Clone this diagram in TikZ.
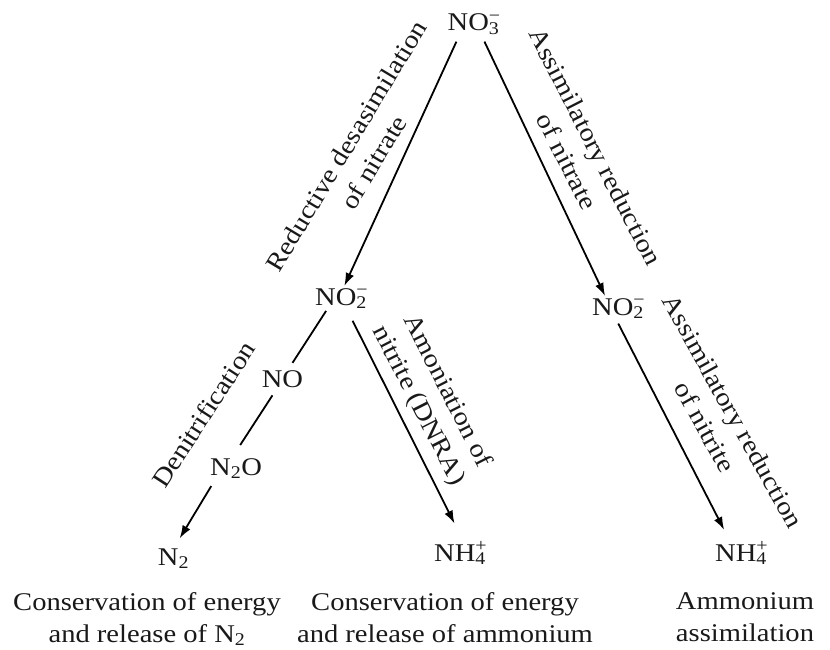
\documentclass[tikz,border=0pt]{standalone}
\usepackage{fontspec}
\setmainfont[FakeStretch=1.12]{Liberation Serif}
\usetikzlibrary{arrows.meta}

% ion with stacked charge and index
\newcommand\chemion[3]{#1\rlap{\textsuperscript{#3}}\textsubscript{#2}}

\begin{document}
\begin{tikzpicture}[x=1pt, y=-1pt, font=\fontsize{25.5}{32}\selectfont,
  species/.style={anchor=base, inner sep=2pt, text=black!90},
  pathlabel/.style={align=center, inner sep=0pt, text=black!90},
  outcome/.style={anchor=north, align=center, inner sep=0pt, text=black!90},
  arr/.style={-{Latex[length=13pt,width=9pt]}, line width=1.8pt, black},
  link/.style={line width=1.8pt, black}]

  \useasboundingbox (0,0) rectangle (830,650);

  % --- species ---
  \node[species] (no3)  at (473.5,31) {\chemion{NO}{3}{−}};
  \node[species] (no2l) at (341,305)  {\chemion{NO}{2}{−}};
  \node[species] (no2r) at (618,315)  {\chemion{NO}{2}{−}};
  \node[species] (no)   at (282.5,387) {NO};
  \node[species] (n2o)  at (236,475)  {N\textsubscript{2}O};
  \node[species] (n2)   at (173.5,565) {N\textsubscript{2}};
  \node[species] (nh4m) at (460,561)  {\chemion{NH}{4}{+}};
  \node[species] (nh4r) at (741,561)  {\chemion{NH}{4}{+}};

  % --- pathways ---
  \draw[arr, shorten <=5pt] (no3.-140) -- (no2l.75);
  \draw[arr, shorten <=5pt] (no3.-55) -- (no2r.136);
  \draw[link, shorten >=6pt] (no2l.-140) -- (no.58);
  \draw[link, shorten <=7pt, shorten >=13pt] (no.-120) -- (n2o.103);
  \draw[arr, shorten <=6pt, shorten >=9pt] (n2o.-150) -- (n2.83);
  \draw[arr, shorten <=11pt, shorten >=18pt] (no2l.-62) -- (nh4m.79);
  \draw[arr, shorten <=3pt, shorten >=11pt] (no2r.-95) -- (nh4r.131);

  % --- pathway names ---
  \node[pathlabel, rotate=59]  (reddes) at (360,154)   {Reductive desasimilation\\of nitrate};
  \node[pathlabel, rotate=-63] (assnat) at (581.5,154) {Assimilatory reduction\\of nitrate};
  \node[pathlabel, rotate=57]  (denit)  at (203.5,414.5) {Denitrification};
  \node[pathlabel, rotate=-63] (dnra)   at (432.5,398.5) {Amoniation of\\nitrite (DNRA)};
  \node[pathlabel, rotate=-61] (assnit) at (719,419)   {Assimilatory reduction\\of nitrite};

  % --- outcomes ---
  \node[outcome] (outn2)  at (147,592) {Conservation of energy\\and release of N\textsubscript{2}};
  \node[outcome] (outamm) at (445,592) {Conservation of energy\\and release of ammonium};
  \node[outcome] (outass) at (745,592) {Ammonium\\assimilation};

\end{tikzpicture}
\end{document}
